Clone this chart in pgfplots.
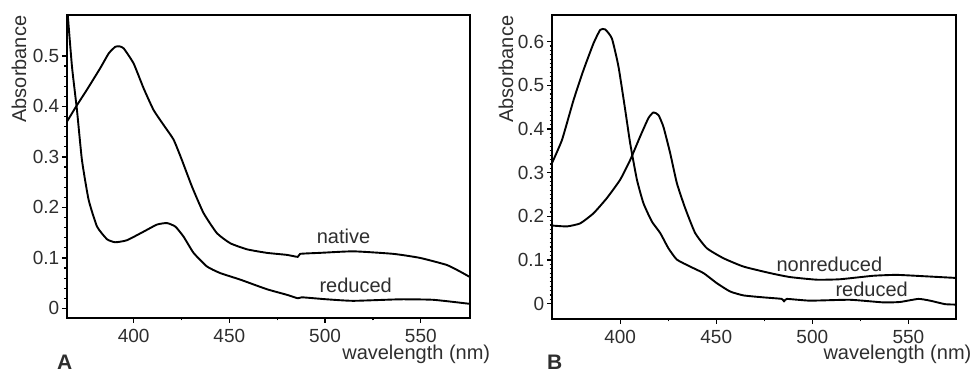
\documentclass[border=0pt]{standalone}
\usepackage{fontspec}
\setmainfont{Liberation Sans}
\usepackage{pgfplots}
\pgfplotsset{compat=1.18}
\definecolor{txt}{HTML}{2E2E2E}
\pgfplotsset{
  spec/.style={
    scale only axis,
    line width=1.6pt,
    axis line style={line width=1.6pt},
    tick align=outside,
    xtick pos=bottom, ytick pos=left,
    major tick length=5pt, minor tick length=2.5pt,
    every tick/.style={black, line width=1.2pt},
    minor tick style={line width=1.2pt},
    xtick={400,450,500,550},
    minor x tick num=1,
    /pgf/number format/assume math mode=true,
    tick label style={font=\fontsize{19}{22}\selectfont, text=txt},
    yticklabel style={/pgf/number format/fixed, /pgf/number format/precision=1, inner sep=2pt},
    xticklabel style={inner sep=0pt, yshift=-5pt},
    label style={font=\fontsize{20}{24}\selectfont, text=txt},
    cycle list={{black, no markers}},
    every axis plot/.append style={line width=1.9pt, line join=round, line cap=round, smooth, tension=0.3},
    clip=true,
  }
}
\begin{document}
\begin{tikzpicture}
\path[use as bounding box] (0pt,0pt) rectangle (975pt,372pt);
\begin{axis}[spec,
  at={(67pt,54pt)}, anchor=south west, width=403pt, height=303pt,
  xmin=365.2, xmax=575.7, ymin=-0.019, ymax=0.581,
  ytick={0,0.1,0.2,0.3,0.4,0.5}, minor y tick num=4,
  xlabel={wavelength (nm)},
  xlabel style={at={(rel axis cs:1.052,-0.138)}, anchor=base east, inner sep=0pt},
  ylabel={Absorbance},
  ylabel style={at={(rel axis cs:-0.1017,1)}, anchor=base east, inner sep=0pt},
]
\addplot coordinates {(365.2,0.370)(370,0.400)(375.6,0.433)(382.6,0.476)(387,0.505)(390.4,0.518)(392.5,0.519)(394.8,0.515)(400,0.485)(405.2,0.436)(410.4,0.393)(415.7,0.363)(420.9,0.334)(425.2,0.294)(430.5,0.241)(436.5,0.189)(443.5,0.149)(450.5,0.129)(459.2,0.117)(469.6,0.110)(480,0.106)(485.8,0.102)(487,0.108)(497.4,0.110)(514.8,0.113)(535.7,0.108)(549.6,0.100)(563.6,0.086)(570.5,0.073)(575.7,0.062)};
\addplot coordinates {(365.2,0.60)(367.8,0.479)(370.4,0.393)(373,0.294)(376.5,0.215)(380.9,0.162)(386.1,0.137)(390.4,0.131)(396.5,0.135)(405.2,0.152)(412.2,0.166)(417.4,0.169)(421.8,0.162)(426.1,0.142)(431.3,0.110)(438.3,0.083)(445.2,0.070)(455.7,0.057)(469.6,0.038)(480,0.027)(485.8,0.020)(487.9,0.022)(500.9,0.018)(514.8,0.015)(539.2,0.018)(556.6,0.017)(575.7,0.009)};
\node[text=txt, font=\fontsize{20}{24}\selectfont] at (axis cs:509.6,0.1425) {native};
\node[text=txt, font=\fontsize{20}{24}\selectfont] at (axis cs:516,0.0455) {reduced};
\end{axis}
\begin{axis}[spec,
  at={(552pt,53pt)}, anchor=south west, width=404pt, height=304pt,
  xmin=364.5, xmax=574.8, ymin=-0.035, ymax=0.661,
  ytick={0,0.1,0.2,0.3,0.4,0.5,0.6}, minor y tick num=9,
  xlabel={wavelength (nm)},
  xlabel style={at={(rel axis cs:1.04,-0.134)}, anchor=base east, inner sep=0pt},
  ylabel={Absorbance},
  ylabel style={at={(rel axis cs:-0.0965,1)}, anchor=base east, inner sep=0pt},
]
\addplot coordinates {(364.5,0.322)(369.7,0.375)(375.7,0.466)(380.9,0.535)(386.1,0.596)(389.6,0.627)(392.2,0.628)(395.7,0.607)(399.1,0.543)(402.6,0.444)(405.2,0.367)(408.7,0.284)(412.1,0.230)(416.5,0.188)(420.8,0.162)(425.1,0.127)(429.5,0.101)(436.4,0.085)(443.4,0.070)(450.3,0.047)(457.2,0.028)(464.2,0.019)(474.6,0.0145)(484.1,0.011)(485.3,0.005)(486.7,0.011)(498.8,0.007)(519.6,0.009)(537,0.003)(545.7,0.004)(555.2,0.011)(561.3,0.007)(569.1,-0.001)(574.8,-0.002)};
\addplot coordinates {(364.5,0.179)(372.3,0.177)(379.2,0.184)(386.1,0.207)(393.1,0.242)(400,0.284)(405.2,0.329)(410.4,0.383)(414.7,0.425)(417.3,0.438)(419.9,0.432)(422.5,0.405)(426,0.345)(429.5,0.276)(433.8,0.219)(439,0.162)(445.1,0.127)(453.8,0.104)(464.2,0.085)(478.1,0.070)(488.4,0.061)(502.3,0.055)(514.4,0.056)(531.8,0.064)(543.9,0.066)(557.8,0.063)(574.8,0.059)};
\node[text=txt, font=\fontsize{20}{24}\selectfont] at (axis cs:508.9,0.089) {nonreduced};
\node[text=txt, font=\fontsize{20}{24}\selectfont] at (axis cs:530.9,0.0335) {reduced};
\end{axis}
\node[anchor=base west, inner sep=0pt, font=\fontsize{21}{24}\selectfont\bfseries, text=txt] at (57pt,2.5pt) {A};
\node[anchor=base west, inner sep=0pt, font=\fontsize{21}{24}\selectfont\bfseries, text=txt] at (547pt,2.5pt) {B};
\end{tikzpicture}
\end{document}
